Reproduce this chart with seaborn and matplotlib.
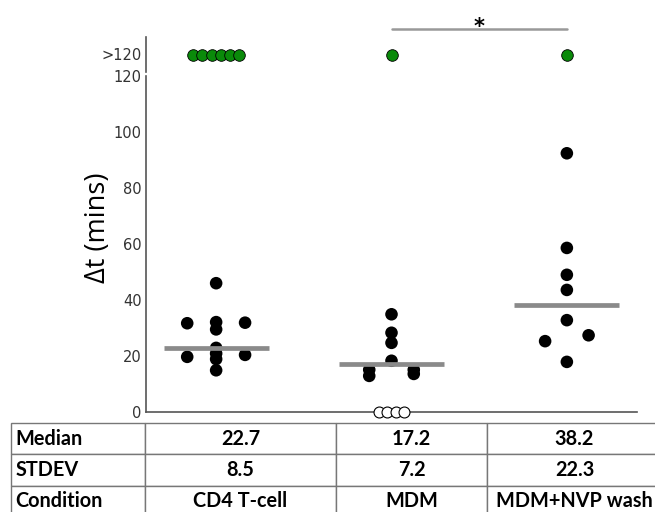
import numpy as np
import pandas as pd
import matplotlib
matplotlib.use("Agg")
import matplotlib.pyplot as plt
import seaborn as sns

# ---------------- data ----------------
conditions = ["CD4 T-cell", "MDM", "MDM+NVP wash"]
cd4_values = [46.0, 31.7, 32.1, 29.5, 31.9, 22.9, 20.9, 18.9, 19.7, 20.4, 14.9]
mdm_values = [34.9, 28.3, 24.7, 18.3, 15.1, 12.9, 15.1, 13.6]
nvp_values = [92.4, 58.6, 49.0, 43.6, 32.8, 27.4, 25.3, 17.9]
over_counts = [6, 1, 1]          # points ">120"
zero_counts = [0, 4, 0]          # open circles at 0
medians = [22.7, 17.2, 38.2]
stdevs = [8.5, 7.2, 22.3]
row_labels = ["Median", "STDEV", "Condition"]
y_ticks = [0, 20, 40, 60, 80, 100, 120]
over_label = ">120"
y_label = "Δt (mins)"
sig_pair = (1, 2)
sig_mark = "*"

# ---------------- layout (jitter side per point, not data) ----------------
cd4_side = [0, -1, 0, 0, 1, 0, 0, 0, -1, 1, 0]
mdm_side = [0, 0, 0, 0, -1, -1, 1, 1]
nvp_side = [0, 0, 0, 0, 0, 1, -1, 0]
side_width = [0.165, 0.127, 0.124]
stack_step = 0.052

sns.set_style("white")
plt.rcParams["font.family"] = ["Liberation Sans Narrow", "DejaVu Sans"]

fig = plt.figure(figsize=(6.55, 5.12), dpi=100)
W, H = 655, 512
def fa(x0, y0, x1, y1):
    return [x0 / W, 1 - y1 / H, (x1 - x0) / W, (y1 - y0) / H]

ax = fig.add_axes(fa(146, 76, 637, 412))
ax_top = fig.add_axes(fa(146, 37, 637, 72))
xlim = (-0.40, 2.40)

# main points
rows = []
for i, (vals, sides) in enumerate(zip([cd4_values, mdm_values, nvp_values],
                                      [cd4_side, mdm_side, nvp_side])):
    for v, s in zip(vals, sides):
        rows.append({"x": i + s * side_width[i], "y": v})
df = pd.DataFrame(rows)
sns.scatterplot(data=df, x="x", y="y", ax=ax, color="black", s=82,
                edgecolor="none", legend=False, zorder=3)

# open circles at zero
zrows = []
for i, n in enumerate(zero_counts):
    for k in range(n):
        zrows.append({"x": i + (k - (n - 1) / 2) * stack_step * 0.95, "y": 0})
dz = pd.DataFrame(zrows)
sns.scatterplot(data=dz, x="x", y="y", ax=ax, color="white", edgecolor="black",
                linewidth=0.8, s=62, legend=False, zorder=6, clip_on=False)

# medians
xs = np.arange(len(conditions))
ax.hlines(medians, xs - 0.3, xs + 0.3, color="#8a8a8a", lw=3.4, zorder=4)

ax.set_xlim(*xlim)
ax.set_ylim(0, 120)
ax.set_yticks(y_ticks)
ax.set_yticklabels([str(t) for t in y_ticks])
ax.set_xticks([])
ax.set_xlabel("")
ax.set_ylabel("")
for sp in ["top", "right"]:
    ax.spines[sp].set_visible(False)
for sp in ["left", "bottom"]:
    ax.spines[sp].set_color("#555555")
    ax.spines[sp].set_linewidth(1.2)
ax.tick_params(axis="y", direction="in", length=4, width=1, color="#555555",
               labelsize=10.5, labelcolor="#333333", pad=3)

# top (>120) panel
grows = []
for i, n in enumerate(over_counts):
    for k in range(n):
        grows.append({"x": i + (k - (n - 1) / 2) * stack_step, "y": 0.5})
dg = pd.DataFrame(grows)
sns.scatterplot(data=dg, x="x", y="y", ax=ax_top, color="#0a8a0a",
                edgecolor="black", linewidth=0.6, s=70, legend=False,
                zorder=3, clip_on=False)
ax_top.set_xlim(*xlim)
ax_top.set_ylim(0, 1)
ax_top.set_yticks([0.5])
ax_top.set_yticklabels([over_label])
ax_top.set_xticks([])
ax_top.set_xlabel("")
ax_top.set_ylabel("")
for sp in ["top", "right", "bottom"]:
    ax_top.spines[sp].set_visible(False)
ax_top.spines["left"].set_color("#555555")
ax_top.spines["left"].set_linewidth(1.2)
ax_top.tick_params(axis="y", direction="in", length=4, width=1, color="#555555",
                   labelsize=10.5, labelcolor="#333333", pad=3)
ax_top.set_facecolor("none")

# significance bar
ax_top.plot([sig_pair[0], sig_pair[1]], [1.23, 1.23], color="#999999", lw=1.8,
            clip_on=False)
ax_top.text((sig_pair[0] + sig_pair[1]) / 2, 1.12, sig_mark, ha="center",
            va="baseline", fontsize=15, fontweight="bold", color="black",
            clip_on=False, family=["DejaVu Sans"])

# y label
fig.text(98 / W, 1 - 228 / H, y_label, rotation=90, ha="center", va="center",
         fontsize=19.5, family=["Open Sans", "DejaVu Sans"], color="black")

# table
ax_t = fig.add_axes(fa(11, 423, 662, 517))
ax_t.axis("off")
cell_text = [[row_labels[0]] + [f"{m:.1f}" for m in medians],
             [row_labels[1]] + [f"{s:.1f}" for s in stdevs],
             [row_labels[2]] + conditions]
col_px = [145 - 11, 336 - 145, 487 - 336, 662 - 487]
col_w = [c / sum(col_px) for c in col_px]
tbl = ax_t.table(cellText=cell_text, bbox=[0, 0, 1, 1], colWidths=col_w,
                 cellLoc="center")
tbl.auto_set_font_size(False)
for (r, c), cell in tbl.get_celld().items():
    cell.set_edgecolor("#777777")
    cell.set_linewidth(1.0)
    cell.set_text_props(fontsize=14.3, fontweight="bold",
                        family=["Lato", "DejaVu Sans"], color="black")
    if c == 0:
        cell.get_text().set_ha("left")
        cell.PAD = 0.035

fig.savefig("out.png", dpi=100)
